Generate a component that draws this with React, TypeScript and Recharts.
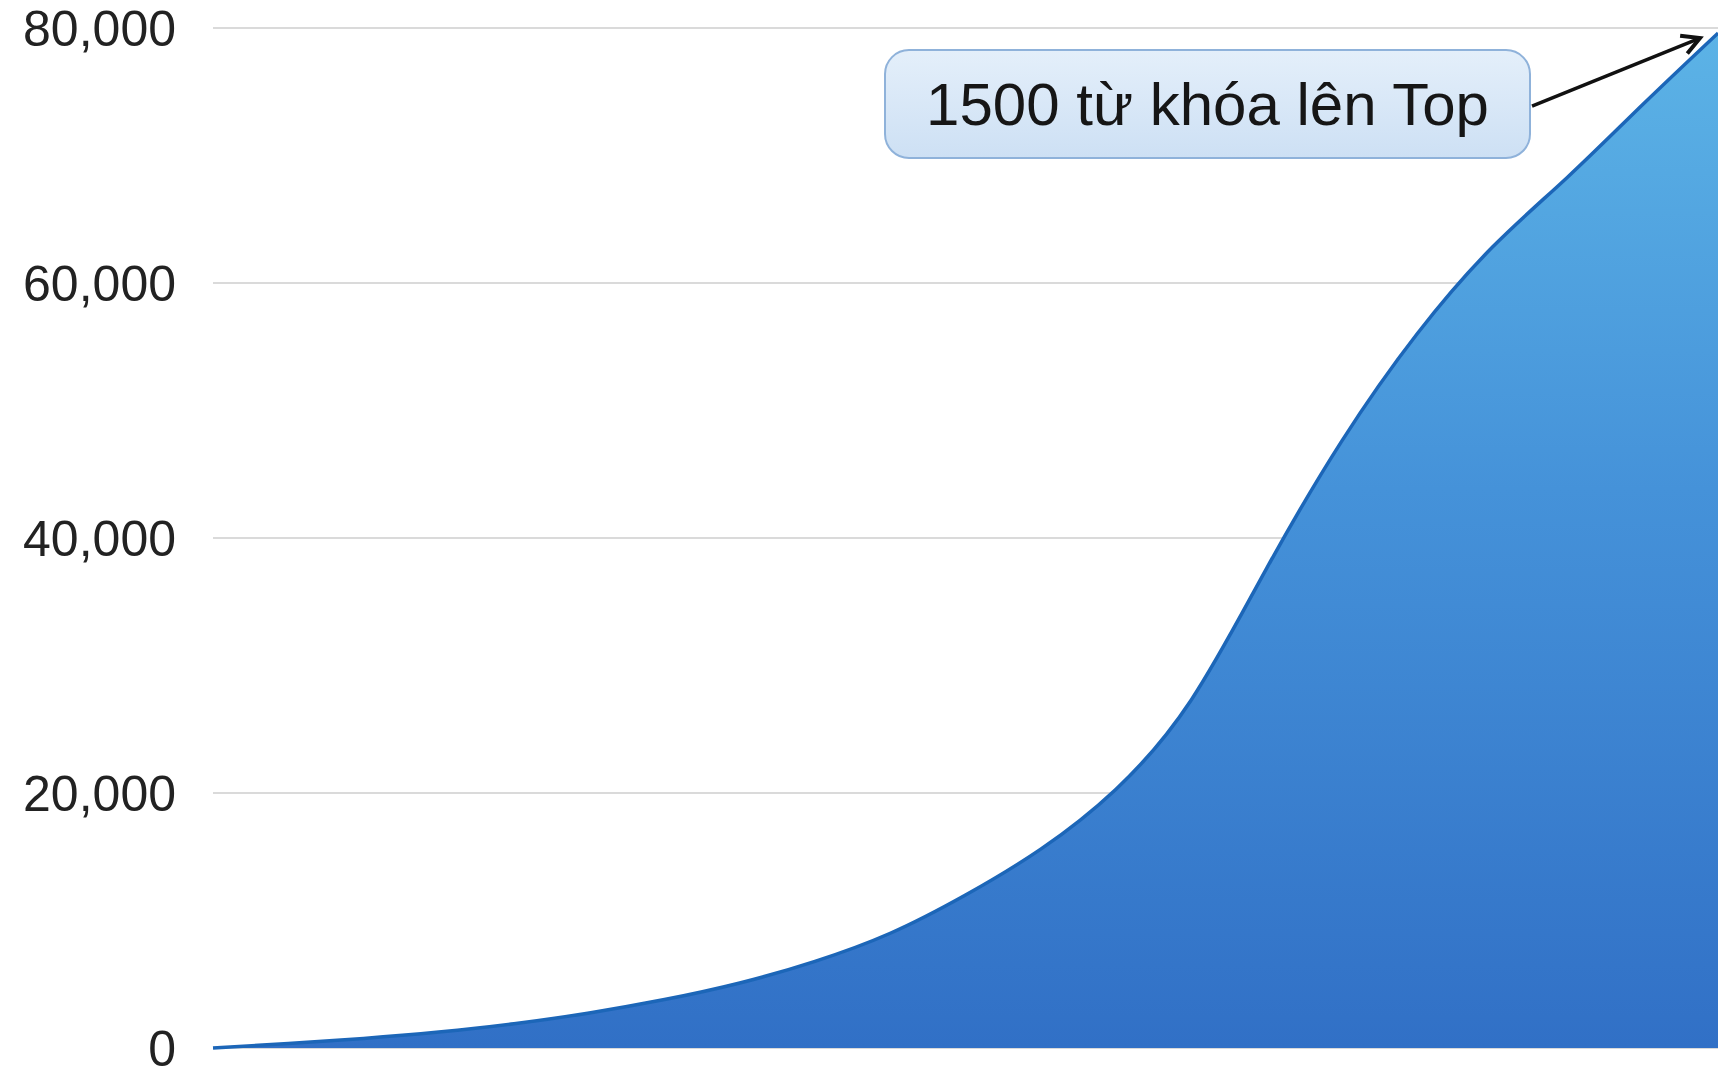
import React from 'react';
import { AreaChart, Area, XAxis, YAxis, CartesianGrid, ReferenceDot } from 'recharts';

const periods = ['P1', 'P2', 'P3', 'P4', 'P5', 'P6', 'P7', 'P8', 'P9', 'P10', 'P11', 'P12', 'P13', 'P14', 'P15', 'P16', 'P17', 'P18', 'P19', 'P20', 'P21'];
const keywordCounts = [0, 350, 750, 1250, 1900, 2750, 3800, 5100, 6800, 9000, 12000, 15600, 20300, 27300, 37600, 47600, 56000, 62800, 68300, 74000, 79600];
const yTicks = [0, 20000, 40000, 60000, 80000];
const annotationText = '1500 từ khóa lên Top';

const data = periods.map((p, i) => ({ period: p, value: keywordCounts[i] }));

const FONT = '"Liberation Sans", Arial, Helvetica, sans-serif';

const AnnotationShape = (props: any) => {
  const { cx, cy } = props;
  if (cx == null || cy == null) return null;
  const tipX = cx - 18;
  const tipY = cy + 5;
  const startX = cx - 186;
  const startY = cy + 73;
  const ang = Math.atan2(tipY - startY, tipX - startX);
  const L = 20;
  const a1 = ang + Math.PI - 0.5;
  const a2 = ang + Math.PI + 0.5;
  const boxX = cx - 833;
  const boxY = cy + 17;
  const boxW = 645;
  const boxH = 108;
  return (
    <g>
      <defs>
        <linearGradient id="boxGrad" x1="0" y1="0" x2="0" y2="1">
          <stop offset="0%" stopColor="#e4effa" />
          <stop offset="100%" stopColor="#cde0f4" />
        </linearGradient>
      </defs>
      <line x1={startX} y1={startY} x2={tipX} y2={tipY} stroke="#111" strokeWidth={3.5} />
      <polyline
        points={`${tipX + L * Math.cos(a1)},${tipY + L * Math.sin(a1)} ${tipX},${tipY} ${tipX + L * Math.cos(a2)},${tipY + L * Math.sin(a2)}`}
        fill="none"
        stroke="#111"
        strokeWidth={4}
        strokeLinejoin="miter"
      />
      <rect x={boxX} y={boxY} width={boxW} height={boxH} rx={24} ry={24} fill="url(#boxGrad)" stroke="#8fb2da" strokeWidth={2} />
      <text
        x={boxX + boxW / 2}
        y={boxY + 75}
        textAnchor="middle"
        fontFamily={FONT}
        fontSize={60}
        fill="#161616"
      >
        {annotationText}
      </text>
    </g>
  );
};

export default function App() {
  return (
    <div style={{ position: 'absolute', left: 0, top: 0, width: 1718, height: 1068, background: '#ffffff' }}>
      <AreaChart width={1718} height={1068} data={data} margin={{ top: 28, right: 0, bottom: 20, left: 0 }}>
        <defs>
          <linearGradient id="areaGrad" x1="0" y1="0" x2="0" y2="1">
            <stop offset="0%" stopColor="#5cb3e6" />
            <stop offset="45%" stopColor="#4592d9" />
            <stop offset="100%" stopColor="#3170c6" />
          </linearGradient>
        </defs>
        <CartesianGrid vertical={false} stroke="#dadada" strokeWidth={2} />
        <XAxis dataKey="period" hide />
        <YAxis
          width={213}
          domain={[0, 80000]}
          ticks={yTicks}
          axisLine={false}
          tickLine={false}
          tickSize={0}
          tickMargin={37}
          interval={0}
          tickFormatter={(v: number) => v.toLocaleString('en-US')}
          tick={{ fill: '#222222', fontSize: 50, fontFamily: FONT }}
        />
        <Area
          type="natural"
          dataKey="value"
          stroke="#1c66b8"
          strokeWidth={3.5}
          fill="url(#areaGrad)"
          fillOpacity={1}
          dot={false}
          activeDot={false}
          isAnimationActive={false}
        />
        <ReferenceDot
          x={periods[periods.length - 1]}
          y={keywordCounts[keywordCounts.length - 1]}
          ifOverflow="visible"
          shape={AnnotationShape}
        />
      </AreaChart>
    </div>
  );
}
